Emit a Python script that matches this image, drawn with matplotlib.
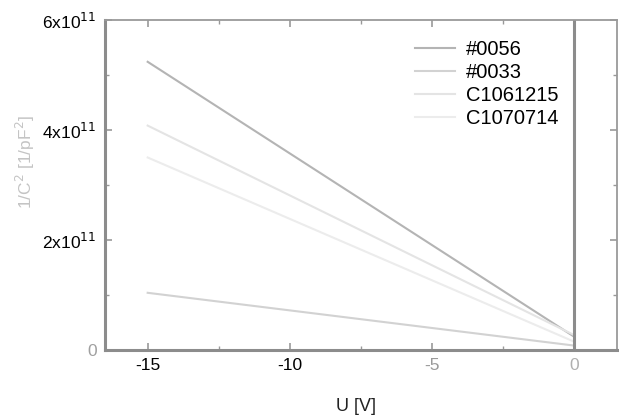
import matplotlib
matplotlib.use("Agg")
import matplotlib.pyplot as plt
from matplotlib.ticker import MultipleLocator, FixedLocator

plt.rcParams['font.family'] = ['Liberation Sans', 'DejaVu Sans']

# data (voltage in V, 1/C^2 in 1/pF^2)
u = [-15, 0]
s0056 = [5.24e11, 0.24e11]
s0033 = [1.04e11, 0.08e11]
c1061215 = [4.08e11, 0.27e11]
c1070714 = [3.5e11, 0.15e11]

labels = ['#0056', '#0033', 'C1061215', 'C1070714']
series = [s0056, s0033, c1061215, c1070714]
colors = ['#b4b4b4', '#d2d2d2', '#e4e4e4', '#ececec']

yticks = [0, 2e11, 4e11, 6e11]
ytick_labels = ['0', r'2x10$^{11}$', r'4x10$^{11}$', r'6x10$^{11}$']
xticks = [-15, -10, -5, 0]
xtick_labels = ['-15', '-10', '-5', '0']

fig = plt.figure(figsize=(6.19, 4.17), dpi=100)
ax = fig.add_axes([105/619, 1-350/417, 512/619, 330/417])

for lab, s, c in zip(labels, series, colors):
    ax.plot(u, s, color=c, lw=1.5, label=lab)

ax.axvline(0, color='#8c8c8c', lw=2.2)

ax.set_xlim(-16.5, 1.5)
ax.set_ylim(0, 6e11)
ax.xaxis.set_major_locator(FixedLocator(xticks))
ax.set_xticklabels(xtick_labels)
ax.yaxis.set_major_locator(FixedLocator(yticks))
ax.set_yticklabels(ytick_labels)
ax.xaxis.set_minor_locator(MultipleLocator(2.5))
ax.yaxis.set_minor_locator(MultipleLocator(1e11))
ax.tick_params(which='both', direction='in', top=True, right=True, color='#999999')
ax.tick_params(which='major', length=5, width=1.2, labelsize=12.5, pad=6)
ax.tick_params(which='minor', length=3, width=1)
for sp in ax.spines.values():
    sp.set_color('#9a9a9a')
    sp.set_linewidth(1.3)
ax.spines['left'].set_linewidth(2.2)
ax.spines['bottom'].set_linewidth(2.2)
ax.spines['left'].set_color('#8c8c8c')
ax.spines['bottom'].set_color('#8c8c8c')

for t, c in zip(ax.get_xticklabels(), ['black', 'black', '#9a9a9a', '#b0b0b0']):
    t.set_color(c)
for t, c in zip(ax.get_yticklabels(), ['#a0a0a0', 'black', 'black', 'black']):
    t.set_color(c)

ax.set_xlabel('U [V]', fontsize=13, color='#222222')
ax.xaxis.set_label_coords(0.49, -0.145)
ax.set_ylabel('1/C$^2$ [1/pF$^2$]', fontsize=12.5, color='#c4c4c4')
ax.yaxis.set_label_coords(-0.133, 0.57)

leg = ax.legend(loc='upper left', bbox_to_anchor=(0.605, 0.94), frameon=False,
                fontsize=14.5, handlelength=2.0, handletextpad=0.55,
                labelspacing=0.2, borderaxespad=0, borderpad=0)

fig.savefig('out.png', dpi=100)
